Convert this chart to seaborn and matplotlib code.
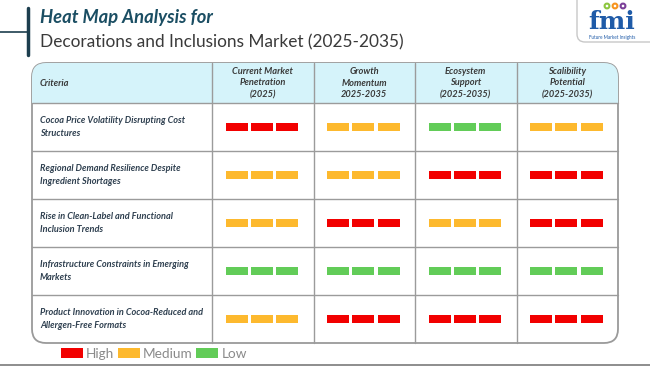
import numpy as np
import pandas as pd
import matplotlib
matplotlib.use('Agg')
import matplotlib.pyplot as plt
import seaborn as sns
from matplotlib.colors import ListedColormap
from matplotlib.patches import FancyBboxPatch, Rectangle, Patch, Circle

# Chart data
criteria = ['Cocoa Price Volatility Disrupting Cost\nStructures',
            'Regional Demand Resilience Despite\nIngredient Shortages',
            'Rise in Clean-Label and Functional\nInclusion Trends',
            'Infrastructure Constraints in Emerging\nMarkets',
            'Product Innovation in Cocoa-Reduced and\nAllergen-Free Formats']
columns = ['Current Market\nPenetration\n(2025)',
           'Growth\nMomentum\n2025-2035',
           'Ecosystem\nSupport\n(2025-2035)',
           'Scalibility\nPotential\n(2025-2035)']
level_names = ['Low', 'Medium', 'High']
levels = [['High', 'Medium', 'Low', 'Medium'],
          ['Medium', 'Medium', 'High', 'High'],
          ['Medium', 'High', 'Medium', 'High'],
          ['Low', 'Low', 'Low', 'Low'],
          ['Medium', 'High', 'High', 'High']]

level_colors = {'Low': '#62CC58', 'Medium': '#FDB92E', 'High': '#F20000'}

df = pd.DataFrame(levels, index=criteria, columns=columns)
codes = df.apply(lambda s: s.map(level_names.index)).to_numpy(dtype=float)

# each cell -> three small bars (a sub-grid pattern of the heat map)
pattern = np.full((17, 60), np.nan)
for k in range(3):
    pattern[7:10, 8 + k * 15: 8 + k * 15 + 13] = 1.0
grid = np.kron(codes, pattern)

W, H = 650, 366
fig = plt.figure(figsize=(6.5, 3.66), dpi=100)
sns.set_style('white')
plt.rcParams['font.family'] = ['Lato', 'DejaVu Sans']

# overlay axes in pixel coords for table frame and texts
bg = fig.add_axes([0, 0, 1, 1])
bg.set_xlim(0, W)
bg.set_ylim(H, 0)
bg.axis('off')

tx0, tx1, ty0, ty1 = 32, 618, 63, 343
head_h = 40
col0 = 212
nrow, ncol = len(criteria), len(columns)
row_h = (ty1 - ty0 - head_h) / nrow
col_w = (tx1 - col0) / ncol

box = FancyBboxPatch((tx0, ty0), tx1 - tx0, ty1 - ty0,
                     boxstyle='round,pad=0,rounding_size=14',
                     fc='white', ec='#9a9a9a', lw=1.3, zorder=1)
bg.add_patch(box)
head = Rectangle((tx0, ty0), tx1 - tx0, head_h, fc='#D5F3FA', ec='none', zorder=1.5)
bg.add_patch(head)
head.set_clip_path(box)

line_c = '#9b9b9b'
for i in range(nrow):
    y = ty0 + head_h + i * row_h
    bg.plot([tx0, tx1], [y, y], color=line_c, lw=1.0, zorder=2)
for j in range(ncol):
    x = col0 + j * col_w
    bg.plot([x, x], [ty0, ty1], color=line_c, lw=1.0, zorder=2)

bg.text(tx0 + 8, ty0 + head_h / 2, 'Criteria', fontsize=6.7, fontweight='bold',
        fontstyle='italic', color='#3a3a3a', va='center', ha='left', zorder=3)
for j, c in enumerate(columns):
    bg.text(col0 + (j + 0.5) * col_w, ty0 + head_h / 2, c, fontsize=6.7,
            fontweight='bold', fontstyle='italic', color='#3a3a3a',
            ha='center', va='center', linespacing=1.4, zorder=3)
for i, r in enumerate(criteria):
    bg.text(tx0 + 8, ty0 + head_h + (i + 0.5) * row_h, r, fontsize=6.6,
            fontweight='bold', fontstyle='italic', color='#2E3F4F',
            ha='left', va='center', linespacing=1.55, zorder=3)

# title block
bg.plot([28, 28], [8, 55], color='#1C3E4E', lw=2.5)
bg.plot([0, 28], [32, 32], color='#1C3E4E', lw=1.2)
bg.text(40, 18, 'Heat Map Analysis for', fontsize=13.2, fontweight='bold',
        fontstyle='italic', color='#1B4E63', va='center', ha='left')
bg.text(40, 42, 'Decorations and Inclusions Market (2025-2035)', fontsize=12.4,
        color='#3a3a3a', va='center', ha='left')

# logo
logo = FancyBboxPatch((577, -10), 90, 52, boxstyle='round,pad=0,rounding_size=8',
                      fc='white', ec='#c8c8c8', lw=1.0)
bg.add_patch(logo)
bg.text(612, 22, 'fmi', fontsize=18, fontweight='bold', family='DejaVu Serif',
        color='#1F5BA8', ha='center', va='center')
for xc, cc in zip([607, 615, 623], ['#8DC63F', '#F7941D', '#7B3F98']):
    bg.add_patch(Circle((xc, 6), 2.4, fc='white', ec=cc, lw=1.5))
bg.text(612, 37, 'Future Market Insights', fontsize=3.3, color='#1F5BA8',
        ha='center', va='center')

bg.plot([0, W], [365, 365], color='#7a7a7a', lw=1.2)

# heat map bars
hax = fig.add_axes([col0 / W, 1 - ty1 / H, (tx1 - col0) / W, (ty1 - ty0 - head_h) / H])
cmap = ListedColormap([level_colors[n] for n in level_names])
sns.heatmap(grid, mask=np.isnan(grid), cmap=cmap, vmin=-0.5, vmax=2.5,
            cbar=False, ax=hax, xticklabels=False, yticklabels=False)
hax.patch.set_alpha(0)
hax.tick_params(left=False, bottom=False)
for s in hax.spines.values():
    s.set_visible(False)

# legend
handles = [Patch(fc=level_colors[n], ec='none') for n in ['High', 'Medium', 'Low']]
fig.legend(handles, ['High', 'Medium', 'Low'], loc='center left',
           bbox_to_anchor=(61 / W, 1 - 354 / H), ncol=3, frameon=False,
           fontsize=9.8, labelcolor='#8a8a8a', handlelength=1.6, handleheight=0.75,
           handletextpad=0.25, columnspacing=0.25, borderpad=0, borderaxespad=0)

fig.savefig('out.png', dpi=100)
